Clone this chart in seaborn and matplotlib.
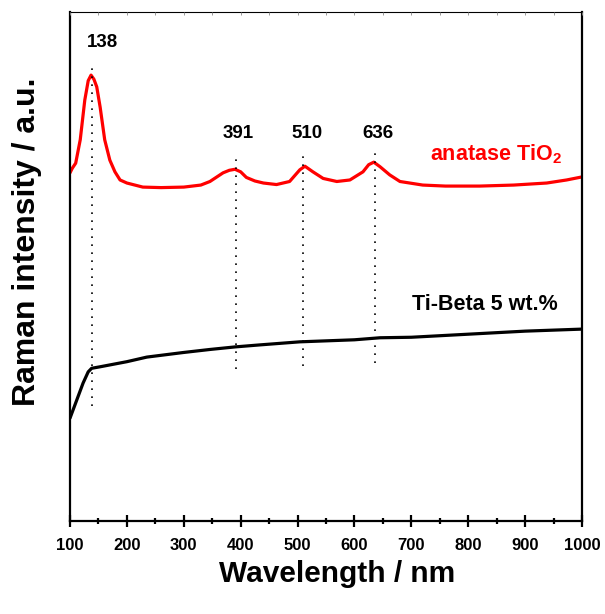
import matplotlib
matplotlib.use("Agg")
import matplotlib.pyplot as plt
from matplotlib.ticker import MultipleLocator
import seaborn as sns

# anatase TiO2 spectrum (wavelength, intensity a.u.)
anatase_x = [100, 104, 110, 118, 126, 132, 137, 142, 147, 153, 161, 170, 179, 188, 200, 228,
             260, 300, 330, 346, 369, 380, 390, 400, 410, 425, 440, 463, 486, 504, 513, 527,
             545, 569, 592, 615, 625, 634, 645, 662, 680, 720, 760, 820, 880, 938, 973, 1000]
anatase_y = [68.4, 69.3, 70.3, 74.9, 82.7, 86.5, 87.6, 86.8, 85.3, 81.3, 74.9, 70.9, 68.6, 67.0, 66.4, 65.6,
             65.5, 65.6, 66.0, 66.7, 68.4, 68.9, 69.1, 68.6, 67.5, 66.8, 66.4, 66.1, 66.7, 69.0, 69.7, 68.6,
             67.3, 66.7, 67.0, 68.6, 70.0, 70.5, 69.6, 68.0, 66.7, 66.0, 65.8, 65.8, 66.0, 66.4, 67.0, 67.6]

# Ti-Beta 5 wt.% spectrum
tibeta_x = [100, 112, 123, 132, 138, 153, 200, 235, 299, 346, 390, 434, 504, 600, 645, 700, 800, 900, 1000]
tibeta_y = [20.2, 23.8, 27.1, 29.3, 30.0, 30.3, 31.3, 32.2, 33.1, 33.7, 34.2, 34.6, 35.2, 35.6, 36.0, 36.1, 36.7, 37.3, 37.7]

# peak markers
peaks = [138, 391, 510, 636]
peak_top = [90.0, 71.3, 72.3, 72.5]
peak_bottom = [22.6, 29.9, 30.5, 31.0]
peak_label_x = [158, 396, 517, 641]
peak_label_y = [93.2, 75.2, 75.2, 75.2]

sns.set_style("ticks")
plt.rcParams["font.family"] = ["Liberation Sans", "DejaVu Sans"]
plt.rcParams["font.weight"] = "bold"
plt.rcParams["text.color"] = "black"
plt.rcParams["axes.labelcolor"] = "black"
plt.rcParams["xtick.color"] = "black"
plt.rcParams["mathtext.fontset"] = "custom"
plt.rcParams["mathtext.rm"] = "Liberation Sans:bold"
plt.rcParams["mathtext.it"] = "Liberation Sans:bold"
plt.rcParams["mathtext.bf"] = "Liberation Sans:bold"

fig = plt.figure(figsize=(6.05, 6.14), dpi=100)
ax = fig.add_axes([70 / 605, 1 - 521 / 614, 512 / 605, 509 / 614])

sns.lineplot(x=anatase_x, y=anatase_y, color="red", linewidth=2.3, ax=ax)
sns.lineplot(x=tibeta_x, y=tibeta_y, color="black", linewidth=2.3, ax=ax)

ax.vlines(peaks, peak_bottom, peak_top, colors="black", linestyles=(0, (1, 3.8)), linewidth=1.2)
for px, lx, ly in zip(peaks, peak_label_x, peak_label_y):
    ax.text(lx, ly, str(px), ha="center", va="baseline", fontsize=13.5, fontweight="bold")

ax.text(733, 70.8, "anatase TiO$_2$", color="red", ha="left", va="baseline", fontsize=15.5, fontweight="bold")
ax.text(701, 41.5, "Ti-Beta 5 wt.%", color="black", ha="left", va="baseline", fontsize=15.5, fontweight="bold")

ax.set_xlim(100, 1000)
ax.set_ylim(0, 100)
ax.xaxis.set_major_locator(MultipleLocator(100))
ax.xaxis.set_minor_locator(MultipleLocator(50))
ax.tick_params(axis="x", which="major", direction="inout", length=9, width=1.6, labelsize=12, pad=8)
ax.tick_params(axis="x", which="minor", direction="inout", length=4.5, width=1.6)
ax.set_yticks([])
for lbl in ax.get_xticklabels():
    lbl.set_fontweight("bold")

for side in ["left", "right", "bottom"]:
    ax.spines[side].set_linewidth(1.6)
    ax.spines[side].set_color("black")
ax.spines["top"].set_linewidth(0.8)
ax.spines["top"].set_color("black")

# faint top ticks
ax_top = ax.twiny()
ax_top.set_xlim(100, 1000)
ax_top.xaxis.set_major_locator(MultipleLocator(50))
ax_top.tick_params(axis="x", direction="in", length=2.5, width=0.6, color="#888888", labeltop=False)
for side in ax_top.spines:
    ax_top.spines[side].set_visible(False)

ax.set_xlabel("Wavelength / nm", fontsize=21.5, fontweight="bold")
ax.set_ylabel("Raman intensity / a.u.", fontsize=23, fontweight="bold")
ax.xaxis.set_label_coords(0.521, -0.077)
ax.yaxis.set_label_coords(-0.055, 0.548)

fig.savefig("out.png", dpi=100)
